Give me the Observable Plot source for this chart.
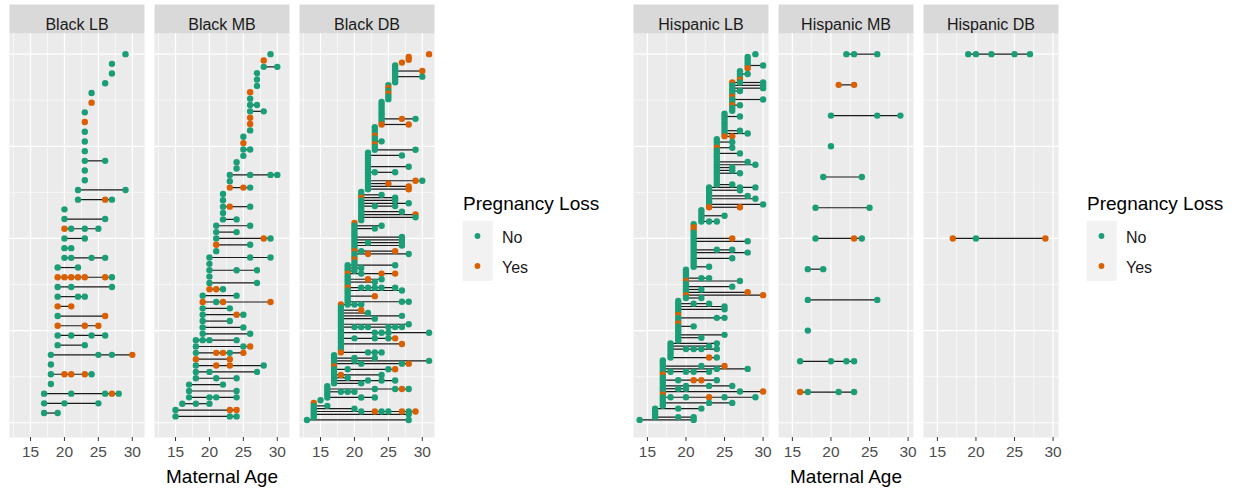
<!DOCTYPE html>
<html><head><meta charset="utf-8">
<script src="https://cdn.jsdelivr.net/npm/d3@7"></script>
<script src="https://cdn.jsdelivr.net/npm/@observablehq/plot@0.6"></script>
<style>
body{margin:0;background:#fff;font-family:"Liberation Sans",Arial,sans-serif;}
#wrap{position:relative;width:1234px;height:490px;overflow:hidden;}
.group{position:absolute;top:0;width:620px;height:490px;}
.group svg{position:absolute;top:0;left:0;}
</style></head><body><div id="wrap"></div>
<script>
const groups = ["Black", "Hispanic"];
const birthTypes = ["LB", "MB", "DB"];
const lossLevels = ["No", "Yes"];
const lossColors = ["#1B9E77", "#D95F02"];
const xTicks = [15, 20, 25, 30];
const xMinor = [12.5, 17.5, 22.5, 27.5];
const yTicks = [0, 0.25, 0.5, 0.75, 1];
const yMinor = [0.125, 0.375, 0.625, 0.875];
const xDomainBlack = [11.9, 31.8];
const xDomainHispanic = [13.2, 30.7];

// one string per woman (top to bottom): maternal ages at each pregnancy, "*" = pregnancy loss
const blackLB = ["29","27","27","26","24","24*","23","23*","23","23","23","23 26","23","23","22 29","22 26* 27","20","20 26","20* 21 23 25","20 23","20 21","20 21 24 26","19 22","19* 20* 21* 22* 23* 26* 27","19 21 27","19 22 23","19* 21*","19 26*","19* 23* 25*","19 21 24 26","19 23","18 25 27 30*","18","18 20* 21* 23* 24","18","17 21 26 27* 28","17 20 25","17 19"];
const blackMB = ["29","28*","28 30","27","27","27","26*","26","26 27","26 28","26*","26*","26","25","25*","25 26","25","24","24","23 26 29 30","23","23* 25* 26","22","22","22 23* 26","22","22 24","21 26","21 24","21 28* 29","21* 26","21","20 26 29","20","20 24 27","20","20 27","20* 21* 22","19 24","19* 21 22* 29*","19 23","19 24* 25","19 23","19 25","19 26","18 19 20 24","18 25 26*","18 21* 22* 23 25*","18* 23*","18 21* 23* 28","18 20 27","18 21 24","17 22","17 24","17 20 21 24","16 18 20","15 23* 24*","15 23 24"];
const blackDB = ["31*","28*","28*","27*","26","26","26 30*","26","26 30","26","26","25","25*","25","25*","25","25","24","24","24","24","24","24","24 27* 29","24","24* 28*","23","23","23","23*","23","23 24","23*","23","23 29","22","22 27","22","22","22","22 28","22","22 23 26","22","22","22 29* 30","22 25*","22 28*","22 28*","21","21 24","21* 26","21 26","21 28","21 23 26","21","21 27","21 29*","21 29","21","20*","20 24","20 23","20","20","20 27","20 27","20 22 27","20 27","20","20* 21 26*","20 22* 28","20","20*","20","19 20 26","19 21","19 20","19* 21 24* 26*","19","19 22* 24","19 23","19","19* 21 22 23 24 26","19 27","19","19 23*","19","19 27 28","18* 19 20 21","18","18 21*","18 22","18 27","18 23","18","18 28","18 20 21 22 25 26 27","18","18 23 24 25 31","18","18 20 23 25 26*","18","18 27*","18","18","18* 22 23 24","17","17 20 23","17 20 31","17 21 27 28*","17*","17 19 25 26*","17","17 18* 24","17 19","17 22 24 26","17 21","16","16 23 26 27* 28","16 18 19 20","16","16 21 23","15","14*","14 16","14 20","14 21 23* 24 25 27* 28 29*","14 28","14","13 28"];
const hispanicLB = ["29","28","28","28","28 30","28*","27","27 28","27","27*","26* 27 30","26 30","26 30","26 27","26","26*","26 30","26","26* 27","26","26","25","25 27","25","25","25","25","25 27","25 28","25* 26*","24","24 26","24","24* 26","24","24 27","24","24","24 28","24 29","24 26","24 26","24 27","24","24","24","24 26","23 27 29","23 27","23","23 28","23 29","23","23 30","23* 27*","22","22","22 25","22","22 23 24","21","21*","21*","21","21","21 26*","21 28","21","21","21 24 26","21 28","21","21 26","21","21","21 23","20","20","20","20 22 23","20* 27","20","20 26","20 22","20 28*","20* 30*","20 22","19","19 21 23","19 25","19 25","19","19*","19 24 25","19","19*","19 21","19","19","19 25","19 22","19","18 24","18 23","18 20 21 22 24","18","18","18 23* 24","17","17","17 22 25*","17 24 28","17 18 20 21 23","17*","17","17 19 21* 22* 24","17","17 20 23 26","17 19 20","17 27 30*","17*","17 18 20 23* 25 29","17","17 23 26","17","16 19 22","16","16","16 19 21","14 21"];
const hispanicMB = ["22 23 26","21* 23*","20 26 29","20","19 24","18 25","18 23* 24","17 19","17 26","17","16 20 22 23","16* 17 21 23"];
const hispanicDB = ["19 20 22 25 27","17* 20 29*"];

const panelRows = {Black: [blackLB, blackMB, blackDB], Hispanic: [hispanicLB, hispanicMB, hispanicDB]};
const xDomains = {Black: xDomainBlack, Hispanic: xDomainHispanic};

function buildGroup(g) {
  const panels = birthTypes.map(b => `${g} ${b}`);
  const pts = [], segs = [];
  panels.forEach((p, k) => {
    const rows = panelRows[g][k];
    const n = rows.length;
    rows.forEach((r, i) => {
      const y = (n - i) / n;
      const items = r.trim().split(/\s+/).map(s => ({
        panel: p, y, age: parseFloat(s), loss: s.endsWith("*") ? "Yes" : "No"
      }));
      pts.push(...items);
      segs.push({panel: p, y, x1: d3.min(items, d => d.age), x2: d3.max(items, d => d.age)});
    });
  });
  return Plot.plot({
    width: 440, height: 490,
    marginLeft: 9, marginRight: 6, marginTop: 33, marginBottom: 53,
    style: {fontFamily: "'Liberation Sans', Arial, sans-serif", background: "transparent", overflow: "visible"},
    fx: {domain: panels, paddingInner: 0.069, paddingOuter: 0, axis: null, label: null},
    x: {domain: xDomains[g]},
    y: {domain: [-0.04, 1.056], axis: null},
    color: {domain: lossLevels, range: lossColors},
    marks: [
      Plot.frame({fill: "#EBEBEB"}),
      Plot.frame({fill: "#D9D9D9", insetTop: -29, insetBottom: 404}),
      Plot.text(panels, {fx: d => d, text: d => d, frameAnchor: "top", dy: -14.5, fontSize: 16, fill: "#1A1A1A"}),
      Plot.ruleX(xMinor, {stroke: "#fff", strokeWidth: 0.6}),
      Plot.ruleY(yMinor, {stroke: "#fff", strokeWidth: 0.6}),
      Plot.ruleX(xTicks, {stroke: "#fff", strokeWidth: 1.2}),
      Plot.ruleY(yTicks, {stroke: "#fff", strokeWidth: 1.2}),
      Plot.ruleY(segs, {fx: "panel", y: "y", x1: "x1", x2: "x2", stroke: "#1a1a1a", strokeWidth: 1.2}),
      Plot.dot(pts, {fx: "panel", x: "age", y: "y", fill: "loss", r: 3.2}),
      Plot.axisX(xTicks, {tickSize: 4, tickPadding: 4, fontSize: 15.5, fill: "#4D4D4D", stroke: "#333", label: null}),
      Plot.text(["Maternal Age"], {fx: [panels[1]], text: d => d, frameAnchor: "bottom", dy: 45, fontSize: 19, fill: "#000"})
    ]
  });
}

function buildLegend() {
  const svg = d3.create("svg").attr("width", 175).attr("height", 110)
    .style("left", "455px").style("top", "185px")
    .style("font-family", "'Liberation Sans', Arial, sans-serif");
  svg.append("text").attr("x", 8).attr("y", 18.5).attr("dy", "0.35em")
    .attr("font-size", 19).attr("fill", "#000").text("Pregnancy Loss");
  svg.append("rect").attr("x", 7.7).attr("y", 36).attr("width", 30).attr("height", 60).attr("fill", "#F2F2F2");
  lossLevels.forEach((lv, i) => {
    svg.append("circle").attr("cx", 22.5).attr("cy", 51 + 30 * i).attr("r", 2.9).attr("fill", lossColors[i]);
    svg.append("text").attr("x", 47).attr("y", 52 + 30 * i).attr("dy", "0.35em")
      .attr("font-size", 16).attr("fill", "#1A1A1A").text(lv);
  });
  return svg.node();
}

const wrap = document.getElementById("wrap");
groups.forEach((g, i) => {
  const div = document.createElement("div");
  div.className = "group";
  div.style.left = (i * 624.3) + "px";
  div.appendChild(buildGroup(g));
  div.appendChild(buildLegend());
  wrap.appendChild(div);
});
</script></body></html>
